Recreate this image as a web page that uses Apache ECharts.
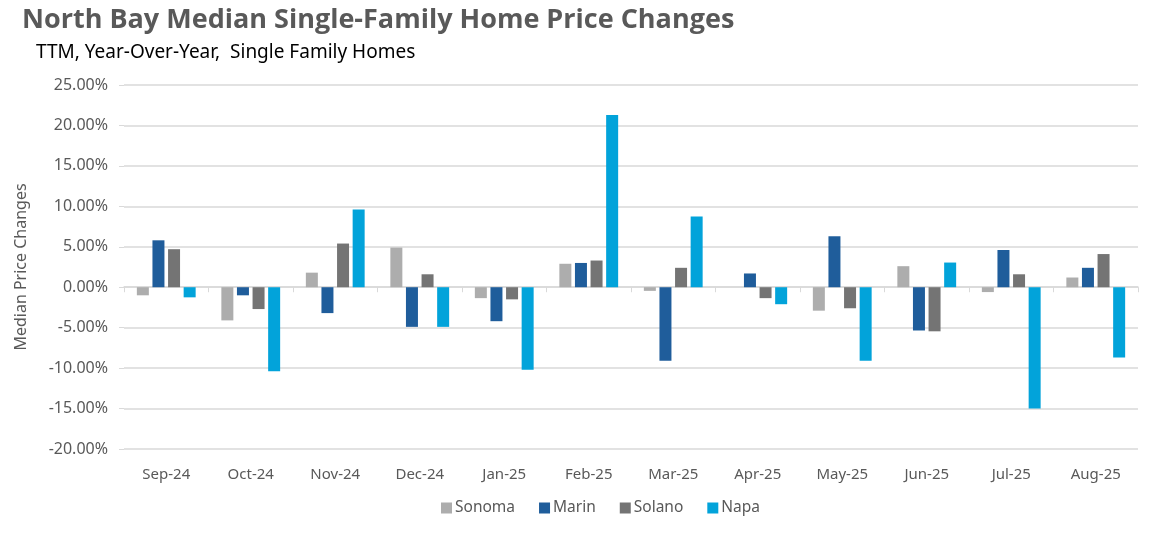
<!DOCTYPE html>
<html>
<head>
<meta charset="utf-8">
<script src="https://cdn.jsdelivr.net/npm/echarts@6/dist/echarts.min.js"></script>
<style>
html,body{margin:0;padding:0;background:#fff;}
#chart{width:1160px;height:536px;}
</style>
</head>
<body>
<div id="chart"></div>
<script>
var categories = ['Sep-24','Oct-24','Nov-24','Dec-24','Jan-25','Feb-25','Mar-25','Apr-25','May-25','Jun-25','Jul-25','Aug-25'];
var sonoma = [-1.0, -4.1, 1.8, 4.9, -1.35, 2.9, -0.45, 0.0, -2.9, 2.6, -0.6, 1.2];
var marin  = [5.8, -1.0, -3.2, -4.9, -4.2, 3.0, -9.1, 1.7, 6.3, -5.35, 4.6, 2.4];
var solano = [4.7, -2.7, 5.4, 1.6, -1.5, 3.3, 2.4, -1.35, -2.6, -5.45, 1.6, 4.1];
var napa   = [-1.25, -10.4, 9.6, -4.9, -10.2, 21.3, 8.75, -2.1, -9.1, 3.05, -15.0, -8.7];
var seriesNames = ['Sonoma','Marin','Solano','Napa'];
var colors = ['#ADADAD','#1F5D9B','#747474','#02A3DA'];

var chart = echarts.init(document.getElementById('chart'));
var font = 'Noto Sans';
var dataSets = [sonoma, marin, solano, napa];
var option = {
  animation: false,
  textStyle: {fontFamily: font},
  title: [
    {text: 'North Bay Median Single-Family Home Price Changes', left: 17, top: 2,
     textStyle: {fontFamily: 'Open Sans', fontSize: 27, fontWeight: 'bold', color: '#595959'}},
    {text: 'TTM, Year-Over-Year,  Single Family Homes', left: 31, top: 38,
     textStyle: {fontFamily: font, fontSize: 19, fontWeight: 'normal', color: '#000'}}
  ],
  legend: {
    data: seriesNames, bottom: 15, left: 436,
    itemWidth: 11, itemHeight: 11, itemGap: 24, icon: 'rect',
    textStyle: {fontFamily: font, fontSize: 15.5, color: '#595959', padding: [0,0,0,-2]}
  },
  grid: {left: 124, right: 22, top: 85, bottom: 87},
  xAxis: [
    {type: 'category', data: categories, position: 'bottom',
     axisLine: {show: false, onZero: false}, axisTick: {show: false},
     axisLabel: {fontFamily: font, fontSize: 15, color: '#595959', margin: 18}},
    {type: 'category', data: categories, position: 'bottom',
     axisLine: {show: true, onZero: true, lineStyle: {color: '#D9D9D9', width: 1.5}},
     axisTick: {show: true, length: 5, lineStyle: {color: '#D9D9D9'}},
     axisLabel: {show: false}}
  ],
  yAxis: {
    type: 'value', min: -20, max: 25, interval: 5,
    name: 'Median Price Changes', nameLocation: 'middle', nameGap: 95,
    nameTextStyle: {fontFamily: font, fontSize: 16, color: '#595959'},
    axisLine: {show: false},
    axisTick: {show: true, length: 5, lineStyle: {color: '#D9D9D9'}},
    axisLabel: {fontFamily: font, fontSize: 16, color: '#595959', margin: 16,
      formatter: function(v){ return v.toFixed(2) + '%'; }},
    splitLine: {lineStyle: {color: '#D9D9D9', width: 1.5}}
  },
  series: seriesNames.map(function(n, i){
    return {name: n, type: 'bar', xAxisIndex: 0, data: dataSets[i],
      barWidth: 12, barGap: '30%',
      itemStyle: {color: colors[i]}};
  })
};
chart.setOption(option);
</script>
</body>
</html>
